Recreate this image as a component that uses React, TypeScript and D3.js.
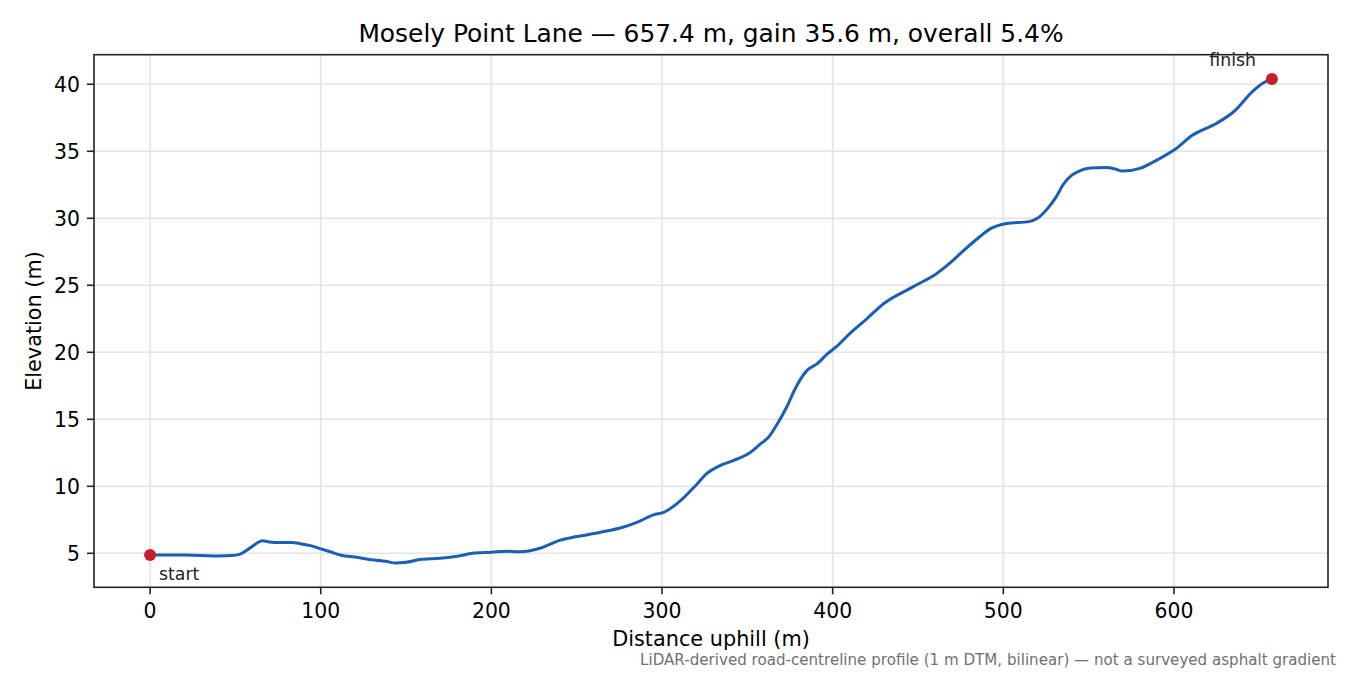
import React from "react";
import * as d3 from "d3";

const distances = [0, 10, 20, 30, 40, 48, 52, 58, 66, 70, 75, 83, 88, 94, 100, 106, 112, 120, 131, 138, 144, 150, 158, 170, 180, 189, 200, 209, 216, 222, 229, 240, 250, 264, 277, 286, 295, 301, 312, 320, 326, 334, 342, 352, 358, 362, 367, 373, 378, 385, 391, 397, 402, 410, 420, 430, 447, 461, 470, 477, 486, 492, 502, 515, 520, 526, 531, 535, 540, 545, 551, 560, 565, 570, 580, 590, 600, 611, 625, 635, 646, 652, 657.4];
const elevations = [4.88, 4.88, 4.87, 4.84, 4.8, 4.83, 4.9, 5.35, 5.93, 5.85, 5.8, 5.8, 5.72, 5.57, 5.33, 5.1, 4.85, 4.72, 4.5, 4.4, 4.27, 4.33, 4.53, 4.63, 4.78, 5.0, 5.08, 5.15, 5.12, 5.18, 5.4, 5.97, 6.25, 6.57, 6.94, 7.35, 7.87, 8.06, 9.06, 10.1, 10.93, 11.55, 11.93, 12.55, 13.2, 13.6, 14.54, 15.9, 17.28, 18.65, 19.15, 19.9, 20.4, 21.4, 22.5, 23.64, 24.88, 25.88, 26.8, 27.62, 28.6, 29.19, 29.61, 29.75, 30.0, 30.74, 31.6, 32.5, 33.2, 33.55, 33.75, 33.78, 33.7, 33.52, 33.72, 34.34, 35.09, 36.21, 37.09, 37.95, 39.45, 40.07, 40.4];
const xTicks = [0, 100, 200, 300, 400, 500, 600];
const yTicks = [5, 10, 15, 20, 25, 30, 35, 40];
const titleText = "Mosely Point Lane \u2014 657.4 m, gain 35.6 m, overall 5.4%";
const xLabel = "Distance uphill (m)";
const yLabel = "Elevation (m)";
const footnote = "LiDAR-derived road-centreline profile (1 m DTM, bilinear) \u2014 not a surveyed asphalt gradient";
const startLabel = "start";
const finishLabel = "finish";

export default function App() {
  const W = 1350, H = 675;
  const L = 94, R = 1328, T = 54.7, B = 587.3;
  const font = "'DejaVu Sans', sans-serif";

  const xMin = d3.min(distances)!, xMax = d3.max(distances)!;
  const yMin = d3.min(elevations)!, yMax = d3.max(elevations)!;
  const xm = (xMax - xMin) * 0.05, ym = (yMax - yMin) * 0.05;
  const x = d3.scaleLinear().domain([xMin - xm, xMax + xm]).range([L, R]);
  const y = d3.scaleLinear().domain([yMin - ym, yMax + ym]).range([B, T]);

  const pts = distances.map((d, i) => [d, elevations[i]] as [number, number]);
  const line = d3.line<[number, number]>().x(d => x(d[0])).y(d => y(d[1])).curve(d3.curveMonotoneX);

  const first = pts[0];
  const last = pts[pts.length - 1];
  const red = "#c41e2a";
  const grid = "#e3e3e3";

  return (
    <svg width={W} height={H} style={{ position: "absolute", left: 0, top: 0, background: "#fff" }} fontFamily={font}>
      <rect x={0} y={0} width={W} height={H} fill="#fff" />
      {xTicks.map(t => (
        <line key={"gx" + t} x1={x(t)} x2={x(t)} y1={T} y2={B} stroke={grid} strokeWidth={1.6} />
      ))}
      {yTicks.map(t => (
        <line key={"gy" + t} x1={L} x2={R} y1={y(t)} y2={y(t)} stroke={grid} strokeWidth={1.6} />
      ))}
      <path d={line(pts) || ""} fill="none" stroke="#1a5fb4" strokeWidth={3} strokeLinejoin="round" strokeLinecap="round" />
      <circle cx={x(first[0])} cy={y(first[1])} r={6} fill={red} />
      <circle cx={x(last[0])} cy={y(last[1])} r={6} fill={red} />
      <text x={x(first[0]) + 9} y={y(first[1]) + 25} fontSize={17.3} fill="#222">{startLabel}</text>
      <text x={x(last[0]) - 16} y={y(last[1]) - 13} fontSize={17.3} fill="#222" textAnchor="end">{finishLabel}</text>
      <rect x={L} y={T} width={R - L} height={B - T} fill="none" stroke="#222" strokeWidth={1.6} />
      {xTicks.map(t => (
        <g key={"tx" + t}>
          <line x1={x(t)} x2={x(t)} y1={B} y2={B + 7} stroke="#222" strokeWidth={1.6} />
          <text x={x(t)} y={B + 31} fontSize={20.4} textAnchor="middle" fill="#000">{t}</text>
        </g>
      ))}
      {yTicks.map(t => (
        <g key={"ty" + t}>
          <line x1={L - 7} x2={L} y1={y(t)} y2={y(t)} stroke="#222" strokeWidth={1.6} />
          <text x={L - 14} y={y(t) + 7.4} fontSize={20.4} textAnchor="end" fill="#000">{t}</text>
        </g>
      ))}
      <text x={(L + R) / 2} y={41.7} fontSize={24.9} textAnchor="middle" fill="#000">{titleText}</text>
      <text x={(L + R) / 2} y={646} fontSize={20.8} textAnchor="middle" fill="#000">{xLabel}</text>
      <text transform={`translate(41,${(T + B) / 2}) rotate(-90)`} fontSize={20.8} textAnchor="middle" fill="#000">{yLabel}</text>
      <text x={1336} y={665} fontSize={15.1} textAnchor="end" fill="#707070">{footnote}</text>
    </svg>
  );
}
